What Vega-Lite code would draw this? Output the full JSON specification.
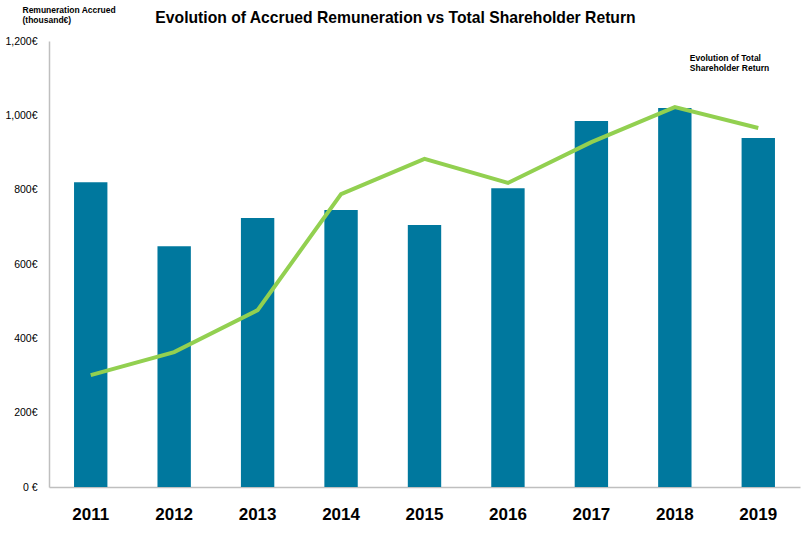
{
  "$schema": "https://vega.github.io/schema/vega-lite/v6.json",
  "width": 751,
  "height": 446,
  "autosize": {"type": "none"},
  "padding": {"left": 49, "top": 41, "right": 11, "bottom": 47},
  "background": "white",
  "title": {
    "text": "Evolution of Accrued Remuneration vs Total Shareholder Return",
    "font": "Liberation Sans",
    "fontSize": 15.7,
    "fontWeight": "bold",
    "color": "#000000",
    "anchor": "middle",
    "frame": "group",
    "dx": -29,
    "offset": -22
  },
  "config": {
    "view": {"stroke": null},
    "font": "Liberation Sans"
  },
  "data": {
    "values": [
      {"year": "2011", "remuneration": 820, "tsr": 301},
      {"year": "2012", "remuneration": 648, "tsr": 363},
      {"year": "2013", "remuneration": 724, "tsr": 476},
      {"year": "2014", "remuneration": 745, "tsr": 788},
      {"year": "2015", "remuneration": 705, "tsr": 883},
      {"year": "2016", "remuneration": 804, "tsr": 818},
      {"year": "2017", "remuneration": 985, "tsr": 928},
      {"year": "2018", "remuneration": 1020, "tsr": 1022},
      {"year": "2019", "remuneration": 939, "tsr": 966}
    ]
  },
  "encoding": {
    "x": {
      "field": "year",
      "type": "nominal",
      "scale": {"paddingInner": 0.6, "paddingOuter": 0.3},
      "axis": {
        "title": null,
        "labelAngle": 0,
        "labelFont": "Liberation Sans",
        "labelFontSize": 17,
        "labelFontWeight": "bold",
        "labelColor": "#000000",
        "labelPadding": 19,
        "ticks": false,
        "domainColor": "#bfbfbf",
        "domainWidth": 1.5
      }
    }
  },
  "layer": [
    {
      "mark": {"type": "bar", "color": "#00789e"},
      "encoding": {
        "y": {
          "field": "remuneration",
          "type": "quantitative",
          "scale": {"domain": [0, 1200]},
          "axis": {
            "title": ["Remuneration Accrued", "(thousand€)"],
            "titleFont": "Liberation Sans",
            "titleFontSize": 8.5,
            "titleFontWeight": "bold",
            "titleColor": "#000000",
            "titleAngle": 0,
            "titleAlign": "left",
            "titleBaseline": "top",
            "titleX": -27,
            "titleY": -36,
            "titleLineHeight": 10,
            "values": [0, 200, 400, 600, 800, 1000, 1200],
            "labelExpr": "datum.value == 0 ? '0 €' : format(datum.value, ',') + '€'",
            "labelFont": "Liberation Sans",
            "labelFontSize": 10.5,
            "labelColor": "#000000",
            "labelPadding": 12,
            "ticks": false,
            "grid": false,
            "domainColor": "#bfbfbf",
            "domainWidth": 1.5
          }
        }
      }
    },
    {
      "mark": {"type": "line", "color": "#92d050", "strokeWidth": 4},
      "encoding": {
        "y": {"field": "tsr", "type": "quantitative"}
      }
    },
    {
      "data": {"values": [{"year": "2018", "value": 1155, "label": ["Evolution of Total", "Shareholder Return"]}]},
      "mark": {
        "type": "text",
        "align": "left",
        "baseline": "middle",
        "dx": 15,
        "font": "Liberation Sans",
        "fontSize": 8.5,
        "fontWeight": "bold",
        "color": "#000000",
        "lineHeight": 10
      },
      "encoding": {
        "y": {"field": "value", "type": "quantitative"},
        "text": {"field": "label"}
      }
    }
  ]
}
